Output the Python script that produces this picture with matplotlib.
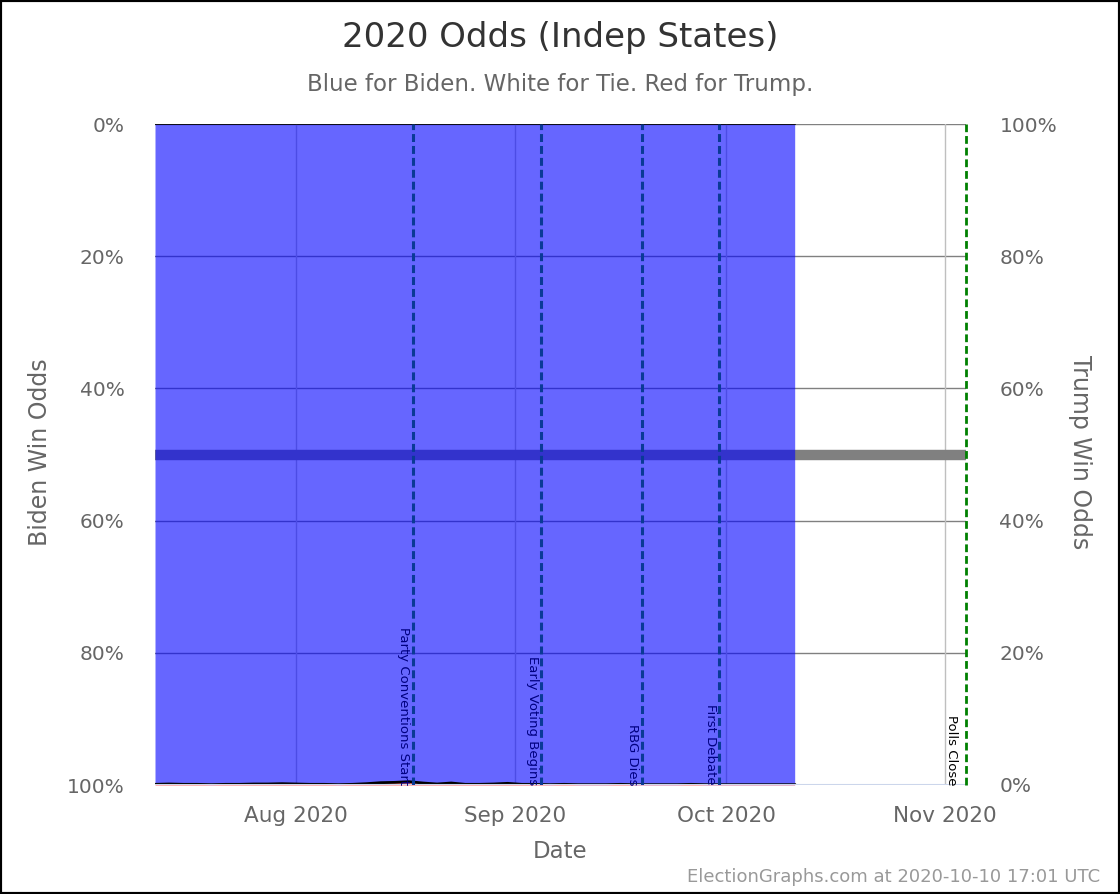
import numpy as np
import pandas as pd
import matplotlib
matplotlib.use('Agg')
import matplotlib.pyplot as plt
from matplotlib.patches import Rectangle
from datetime import datetime

# Trump win odds (%), every 2 days; tie odds ~0
dates = pd.to_datetime([
    '2020-07-12 00:00', '2020-07-14 00:00', '2020-07-16 00:00', '2020-07-18 00:00',
    '2020-07-20 00:00', '2020-07-22 00:00', '2020-07-24 00:00', '2020-07-26 00:00',
    '2020-07-28 00:00', '2020-07-30 00:00', '2020-08-01 00:00', '2020-08-03 00:00',
    '2020-08-05 00:00', '2020-08-07 00:00', '2020-08-09 00:00', '2020-08-11 00:00',
    '2020-08-13 00:00', '2020-08-15 00:00', '2020-08-17 00:00', '2020-08-19 00:00',
    '2020-08-21 00:00', '2020-08-23 00:00', '2020-08-25 00:00', '2020-08-27 00:00',
    '2020-08-29 00:00', '2020-08-31 00:00', '2020-09-02 00:00', '2020-09-04 00:00',
    '2020-09-06 00:00', '2020-09-08 00:00', '2020-09-10 00:00', '2020-09-12 00:00',
    '2020-09-14 00:00', '2020-09-16 00:00', '2020-09-18 00:00', '2020-09-20 00:00',
    '2020-09-22 00:00', '2020-09-24 00:00', '2020-09-26 00:00', '2020-09-28 00:00',
    '2020-09-30 00:00', '2020-10-02 00:00', '2020-10-04 00:00', '2020-10-06 00:00',
    '2020-10-08 00:00', '2020-10-10 17:00'], format='%Y-%m-%d %H:%M')
trump_odds = [0.10, 0.15, 0.10, 0.10, 0.05, 0.10, 0.10, 0.15, 0.15, 0.20, 0.15, 0.10,
              0.10, 0.05, 0.10, 0.20, 0.35, 0.40, 0.50, 0.30, 0.15, 0.30, 0.10, 0.10,
              0.15, 0.25, 0.10, 0.10, 0.05, 0.10, 0.05, 0.05, 0.05, 0.10, 0.05, 0.05,
              0.05, 0.05, 0.10, 0.05, 0.05, 0.05, 0.05, 0.05, 0.05, 0.05]
biden_odds = [100 - t for t in trump_odds]

events = ['Party Conventions Start', 'Early Voting Begins', 'RBG Dies', 'First Debate']
event_dates = [datetime(2020, 8, 17, 14), datetime(2020, 9, 4, 19),
               datetime(2020, 9, 19, 0), datetime(2020, 9, 30, 1)]
polls_close = datetime(2020, 11, 4)

x_ticks = [datetime(2020, 8, 1), datetime(2020, 9, 1), datetime(2020, 10, 1), datetime(2020, 11, 1)]
x_labels = ['Aug 2020', 'Sep 2020', 'Oct 2020', 'Nov 2020']
y_ticks = [0, 20, 40, 60, 80, 100]
left_labels = ['0%', '20%', '40%', '60%', '80%', '100%']
right_labels = ['100%', '80%', '60%', '40%', '20%', '0%']

W, H = 1120, 894
fig = plt.figure(figsize=(W / 100, H / 100), dpi=100)
ax = fig.add_axes([155 / W, 1 - 785 / H, (966 - 155) / W, (785 - 124) / H])
x0, x1 = datetime(2020, 7, 12), polls_close
ax.set_xlim(x0, x1)
ax.set_ylim(100, 0)

# grid under the semi-transparent fills
for y in y_ticks[:-1]:
    ax.axhline(y, color='#808080', lw=1, zorder=1)
for t in x_ticks:
    ax.axvline(t, color='#bfbfbf', lw=1, zorder=1)
ax.axhline(50, color='#808080', lw=7.5, zorder=1.5)

ax.fill_between(dates, 0, biden_odds, color='#0000ff', alpha=0.6, lw=0, zorder=2)
ax.fill_between(dates, biden_odds, 100, color='#ff0000', alpha=0.6, lw=0, zorder=2)
ax.plot(dates, biden_odds, color='black', lw=2, zorder=3)
ax.plot([dates[0], dates[-1]], [0, 0], color='black', lw=1.2, zorder=3)

for name, d in zip(events, event_dates):
    ax.axvline(d, color='#0a3a96', lw=2.2, linestyle=(0, (2.6, 1.3)), zorder=4)
    ax.annotate(name, xy=(d, 100), xytext=(-2, 0), textcoords='offset points',
                rotation=270, ha='right', va='bottom', fontsize=9.5, color='#000080', zorder=5)
ax.axvline(polls_close, color='#008000', lw=2, linestyle=(0, (2.8, 1.4)), zorder=4, clip_on=False)
ax.annotate('Polls Close', xy=(polls_close, 100), xytext=(-6, 0), textcoords='offset points',
            rotation=270, ha='right', va='bottom', fontsize=9.5, color='black', zorder=5)

ax.axhline(100, color='#ccd6eb', lw=1.5, zorder=3)
for s in ax.spines.values():
    s.set_visible(False)

ax.set_xticks(x_ticks)
ax.set_xticklabels(x_labels)
ax.set_yticks(y_ticks)
ax.set_yticklabels(left_labels)
ax.tick_params(axis='x', length=0, pad=15, labelsize=15.5, labelcolor='#666666')
ax.tick_params(axis='y', length=0, pad=22, labelsize=14.5, labelcolor='#666666')

ax2 = ax.twinx()
ax2.set_ylim(0, 100)
ax2.set_yticks(y_ticks)
ax2.set_yticklabels(right_labels[::-1])
ax2.tick_params(axis='y', length=0, pad=24, labelsize=14.5, labelcolor='#666666')
for s in ax2.spines.values():
    s.set_visible(False)

fig.text(0.5, 1 - 38 / H, '2020 Odds (Indep States)', ha='center', va='center',
         fontsize=24.5, color='#333333')
fig.text(0.5, 1 - 85 / H, 'Blue for Biden. White for Tie. Red for Trump.', ha='center',
         va='center', fontsize=16.5, color='#666666')
fig.text(560 / W, 1 - 852 / H, 'Date', ha='center', va='center', fontsize=16.5, color='#666666')
fig.text(40 / W, 1 - 452 / H, 'Biden Win Odds', ha='center', va='center', rotation=90,
         fontsize=17, color='#666666')
fig.text(1080 / W, 1 - 452 / H, 'Trump Win Odds', ha='center', va='center', rotation=270,
         fontsize=17, color='#666666')
fig.text(1100 / W, 1 - 877 / H, 'ElectionGraphs.com at 2020-10-10 17:01 UTC', ha='right',
         va='center', fontsize=13, color='#999999')

fig.patches.append(Rectangle((0, 0), 1, 1, transform=fig.transFigure, fill=False,
                             edgecolor='black', lw=3))

fig.savefig('out.png', dpi=100)
